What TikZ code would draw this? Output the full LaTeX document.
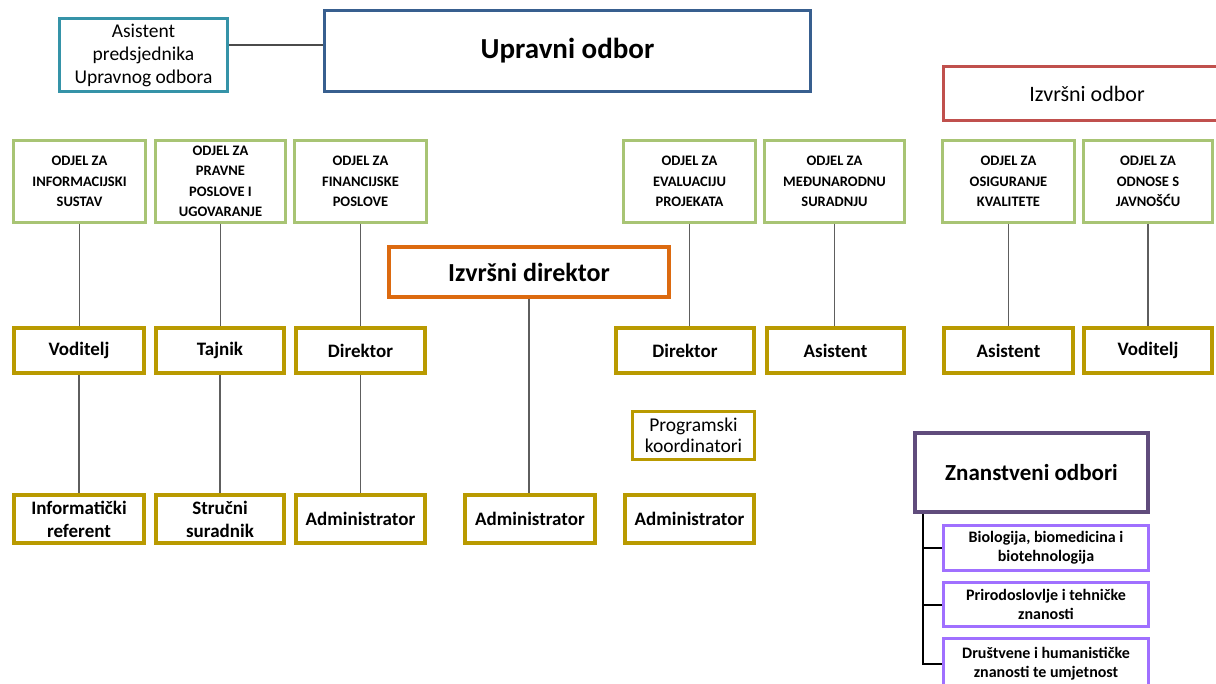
\documentclass[tikz,border=0pt]{standalone}
\usepackage{fontspec}
\setmainfont{Carlito}
\definecolor{asistteal}{HTML}{3593A8}
\definecolor{odborblue}{HTML}{385F8F}
\definecolor{odborred}{HTML}{C0504D}
\definecolor{odjelgreen}{HTML}{A8C474}
\definecolor{rolegold}{HTML}{B99A00}
\definecolor{direktororange}{HTML}{DC6A10}
\definecolor{znanpurple}{HTML}{604C7C}
\definecolor{granapurple}{HTML}{A070FF}
\definecolor{linegray}{HTML}{5E5E5E}

\begin{document}
\begin{tikzpicture}[
  x=1pt,y=-1pt,
  box/.style={
  	draw,
  	fill=white,
  	line width=3pt,
  	inner sep=1pt,
  	align=center
  },
  odjel/.style={
  	box,
  	draw=odjelgreen,
  	minimum height=82pt,
  	font=\fontsize{14.5}{20.5}\selectfont\bfseries
  },
  role/.style={
  	box,
  	draw=rolegold,
  	line width=4pt,
  	font=\fontsize{19}{23}\selectfont\bfseries
  },
  grana/.style={
  	box,
  	draw=granapurple,
  	minimum width=205pt,
  	font=\fontsize{16}{19}\selectfont\bfseries
  },
  link/.style={
  	draw=linegray,
  	line width=1.6pt
  }
  ]
  \useasboundingbox (0,0) rectangle (1216,684);

  % vrh
  \node[box,draw=asistteal,minimum width=168pt,minimum height=73pt,
    font=\fontsize{19.5}{23}\selectfont] (asist) at (143.5,55)
    {Asistent\\predsjednika\\Upravnog odbora};
  \node[box,draw=odborblue,minimum width=486pt,minimum height=81pt,
    font=\fontsize{29}{32}\selectfont\bfseries] (upravni) at (567.5,51) {Upravni odbor};
  \node[box,draw=odborred,minimum width=287pt,minimum height=54pt,
    font=\fontsize{22}{24}\selectfont] (izvrsni) at (1087,93.5) {Izvršni odbor};
  \node[box,draw=direktororange,line width=4pt,minimum width=280pt,minimum height=50pt,
    font=\fontsize{26}{28}\selectfont\bfseries] (direktor) at (529,272) {Izvršni direktor};

  % odjeli
  \foreach \x/\w/\n/\l in {
    79.5/132/g1/{ODJEL ZA\\INFORMACIJSKI\\SUSTAV},
    220.5/130/g2/{ODJEL ZA\\PRAVNE\\POSLOVE I\\UGOVARANJE},
    360.5/132/g3/{ODJEL ZA\\FINANCIJSKE\\POSLOVE},
    689.5/132/g4/{ODJEL ZA\\EVALUACIJU\\PROJEKATA},
    834.5/140/g5/{ODJEL ZA\\MEĐUNARODNU\\SURADNJU},
    1008.5/132/g6/{ODJEL ZA\\OSIGURANJE\\KVALITETE},
    1148/129/g7/{ODJEL ZA\\ODNOSE S\\JAVNOŠĆU}}
  \node[odjel,minimum width=\w pt] (\n) at (\x,181.5) {\l};

  % radna mjesta
  \foreach \x/\w/\n/\l in {79/130/r1/Voditelj,220/128/r2/Tajnik,360.5/129/r3/Direktor,
    685/138/r4/Direktor,835.5/137/r5/Asistent,1008.5/129/r6/Asistent,1148/128/r7/Voditelj}
  \node[role,minimum width=\w pt,minimum height=45pt] (\n) at (\x,350.5) {\l};

  \foreach \x/\w/\n/\l in {79/130/b1/{Informatički\\referent},220/128/b2/{Stručni\\suradnik},
    360.5/129/b3/Administrator,530/130/b4/Administrator,689.5/129/b5/Administrator}
  \node[role,minimum width=\w pt,minimum height=48pt] (\n) at (\x,519) {\l};

  \node[role,line width=3pt,minimum width=122pt,minimum height=48pt,inner sep=0pt,
    font=\fontsize{19.5}{21}\selectfont] (prog) at (693.5,435.5) {Programski\\koordinatori};

  % znanstveni odbori
  \node[box,draw=znanpurple,line width=4pt,minimum width=233pt,minimum height=79pt,
    font=\fontsize{23}{26}\selectfont\bfseries] (znan) at (1031.5,472.5) {Znanstveni odbori};
  \node[grana,minimum height=45pt] (s1) at (1046,548) {Biologija, biomedicina i\\biotehnologija};
  \node[grana,minimum height=44pt] (s2) at (1046,604.5) {Prirodoslovlje i tehničke\\znanosti};
  \node[grana,minimum height=50pt] (s3) at (1046,663.5) {Društvene i humanističke\\znanosti te umjetnost};
  \coordinate (rail) at (923,514);

  \draw[link,draw=linegray!80!black,line width=2pt] ([yshift=10pt]asist.east) -- ([yshift=10pt]asist.east -| upravni.west);
  \foreach \a/\b in {g1/r1,g2/r2,g3/r3,g4/r4,g5/r5,g6/r6,g7/r7,r1/b1,r2/b2,r3/b3,direktor/b4}
  \draw[link] (\a.south) -- (\a.south |- \b.north);
  \draw[black,line width=2pt] (rail) |- (s3.west);
  \foreach \s in {s1,s2}
  \draw[black,line width=2pt] (\s.west) -- (\s.west -| rail);

\end{tikzpicture}
\end{document}
